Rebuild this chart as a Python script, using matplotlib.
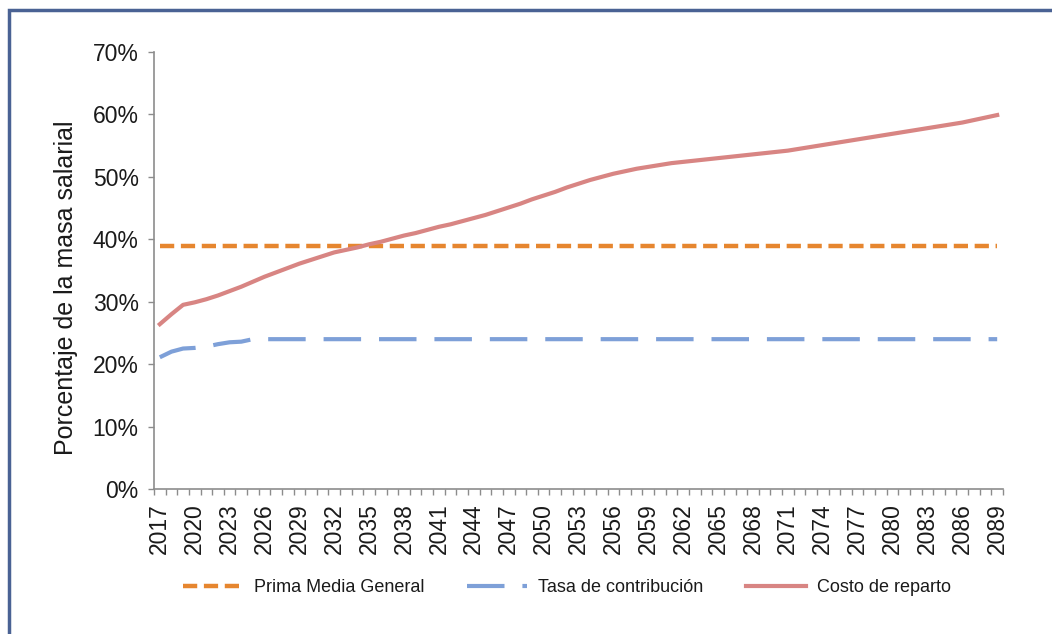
import matplotlib.pyplot as plt
import numpy as np
from matplotlib.patches import Rectangle

plt.rcParams['font.family'] = ['Liberation Sans', 'DejaVu Sans']

# data (percent of wage mass), one value per year 2017-2089
years = list(range(2017, 2090))

costo_reparto = [26.4, 28.0, 29.5, 29.9, 30.4, 31.0, 31.7, 32.4, 33.2, 34.0,
                 34.7, 35.4, 36.1, 36.7, 37.3, 37.9, 38.3, 38.7, 39.2, 39.6,
                 40.1, 40.6, 41.0, 41.5, 42.0, 42.4, 42.9, 43.4, 43.9, 44.5,
                 45.1, 45.7, 46.4, 47.0, 47.6, 48.3, 48.9, 49.5, 50.0, 50.5,
                 50.9, 51.3, 51.6, 51.9, 52.2, 52.4, 52.6, 52.8, 53.0, 53.2,
                 53.4, 53.6, 53.8, 54.0, 54.2, 54.5, 54.8, 55.1, 55.4, 55.7,
                 56.0, 56.3, 56.6, 56.9, 57.2, 57.5, 57.8, 58.1, 58.4, 58.7,
                 59.1, 59.5, 59.9]

tasa_contribucion = [21.1, 22.0, 22.5, 22.6, 22.8, 23.2, 23.5, 23.6, 24.0] + [24.0] * 64

prima_media = [39.0] * 73

label_years = years[::3]

c_orange = '#E6862F'
c_blue = '#7EA0D8'
c_red = '#D88583'
axis_gray = '#8C8C8C'
text_col = '#1A1A1A'

fig = plt.figure(figsize=(10.52, 6.34), dpi=100)
ax = fig.add_axes([154 / 1052, 1 - 489 / 634, (1003 - 154) / 1052, (489 - 52) / 634])

x = np.arange(len(years))
l1, = ax.plot(x, prima_media, color=c_orange, lw=3.2, dashes=(3.2, 1.5),
              label='Prima Media General')
l2, = ax.plot(x, tasa_contribucion, color=c_blue, lw=3.0, dashes=(9, 4.3),
              label='Tasa de contribución')
l3, = ax.plot(x, costo_reparto, color=c_red, lw=3.0, label='Costo de reparto')

ax.set_xlim(-0.5, len(years) - 0.5)
ax.set_ylim(0, 70)
ax.set_yticks(np.arange(0, 71, 10))
ax.set_yticklabels([f'{v}%' for v in range(0, 71, 10)])

ax.set_xticks(np.arange(-0.5, len(years), 1), minor=True)
ax.set_xticks(x[::3])
ax.set_xticklabels([str(y) for y in label_years], rotation=90)
ax.tick_params(axis='x', which='major', length=0, pad=10, labelsize=16.5, labelcolor=text_col)
ax.tick_params(axis='x', which='minor', length=4, width=1, color=axis_gray)
ax.tick_params(axis='y', length=4, width=1, color=axis_gray, labelsize=16.5,
               labelcolor=text_col, pad=7)

for s in ['top', 'right']:
    ax.spines[s].set_visible(False)
for s in ['left', 'bottom']:
    ax.spines[s].set_color(axis_gray)
    ax.spines[s].set_linewidth(1.2)

ax.set_ylabel('Porcentaje de la masa salarial', fontsize=18, color=text_col)
ax.yaxis.set_label_coords(-0.089, 0.46)

fig.legend(handles=[l1, l2, l3], loc='center', bbox_to_anchor=(567 / 1052, 1 - 588 / 634),
           ncol=3, frameon=False, fontsize=13, handlelength=3.3, handletextpad=0.6,
           columnspacing=2.4, labelcolor=text_col)

# outer frame
fig.patches.append(Rectangle((9 / 1052, -0.1), 1.2, 1 - 9.5 / 634 + 0.1, transform=fig.transFigure,
                             fill=False, edgecolor='#4A6294', lw=2.5))

fig.savefig('out.png', dpi=100)
